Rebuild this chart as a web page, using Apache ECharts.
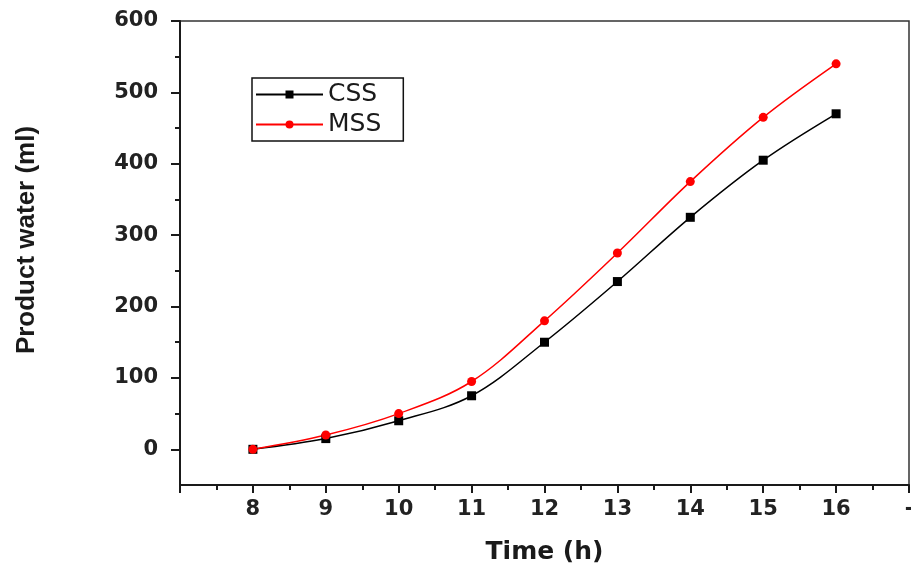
<!DOCTYPE html>
<html>
<head>
<meta charset="utf-8">
<script src="https://cdn.jsdelivr.net/npm/echarts@6/dist/echarts.min.js"></script>
<style>html,body{margin:0;padding:0;background:#fff;}#c{width:911px;height:569px;}</style>
</head>
<body>
<div id="c"></div>
<script>
const hours = [8, 9, 10, 11, 12, 13, 14, 15, 16];
const cssWater = [0, 15, 40, 75, 150, 235, 325, 405, 470];
const mssWater = [0, 20, 50, 95, 180, 275, 375, 465, 540];
const yMajor = [0, 100, 200, 300, 400, 500, 600];
const yMinor = [50, 150, 250, 350, 450, 550];
const xMajorTicks = [7, 8, 9, 10, 11, 12, 13, 14, 15, 16, 17];
const xLabels = [8, 9, 10, 11, 12, 13, 14, 15, 16, 17];
const xMinor = [7.5, 8.5, 9.5, 10.5, 11.5, 12.5, 13.5, 14.5, 15.5, 16.5];

const ink = '#1a1a1a';
const labelFont = { fontFamily: 'DejaVu Sans', fontWeight: 'bold', fontSize: 21, color: '#222' };

const chart = echarts.init(document.getElementById('c'));
chart.setOption({
  animation: false,
  backgroundColor: '#fff',
  grid: { left: 180, right: 2, top: 21, bottom: 84, outerBoundsMode: 'none', containLabel: false, show: true, borderColor: '#333', borderWidth: 1.5, backgroundColor: 'transparent' },
  legend: {
    orient: 'vertical', left: 252, top: 78,
    data: ['CSS', 'MSS'],
    itemWidth: 67, itemHeight: 10, itemGap: 5,
    padding: [4, 22, 4, 3],
    borderColor: '#111', borderWidth: 1.5,
    textStyle: { fontFamily: 'DejaVu Sans', fontSize: 25, color: '#1a1a1a' }
  },
  xAxis: [{
    type: 'value', min: 7, max: 17, interval: 1,
    name: 'Time (h)', nameLocation: 'middle', nameGap: 55,
    nameTextStyle: { fontFamily: 'DejaVu Sans', fontWeight: 'bold', fontSize: 25, color: '#1a1a1a' },
    axisLine: { show: true, onZero: false, lineStyle: { color: ink, width: 2 } },
    axisTick: { show: true, length: 8, lineStyle: { color: ink, width: 2 }, customValues: xMajorTicks },
    axisLabel: Object.assign({ margin: 14, customValues: xLabels, formatter: v => v === 17 ? '-' : String(v) }, labelFont),
    splitLine: { show: false }
  }, {
    type: 'value', min: 7, max: 17, interval: 1, position: 'bottom',
    axisLine: { show: false, onZero: false },
    axisTick: { show: true, length: 5, lineStyle: { color: ink, width: 2 }, customValues: xMinor },
    axisLabel: { show: false },
    splitLine: { show: false }
  }],
  yAxis: [{
    type: 'value', min: -50, max: 600, interval: 50,
    name: 'Product water (ml)', nameLocation: 'middle', nameGap: 140,
    nameTextStyle: { fontFamily: 'Liberation Sans', fontWeight: 'bold', fontSize: 26, color: '#1a1a1a', padding: [0, 0, 0, 26] },
    axisLine: { show: true, onZero: false, lineStyle: { color: ink, width: 2 } },
    axisTick: { show: true, length: 9, lineStyle: { color: ink, width: 2 }, customValues: yMajor },
    axisLabel: Object.assign({ margin: 22, customValues: yMajor }, labelFont),
    splitLine: { show: false }
  }, {
    type: 'value', min: -50, max: 600, interval: 50, position: 'left',
    axisLine: { show: false, onZero: false },
    axisTick: { show: true, length: 5, lineStyle: { color: ink, width: 2 }, customValues: yMinor },
    axisLabel: { show: false },
    splitLine: { show: false }
  }],
  series: [{
    name: 'CSS', type: 'line', smooth: 0.35,
    data: hours.map((h, i) => [h, cssWater[i]]),
    symbol: 'rect', symbolSize: 9,
    itemStyle: { color: '#000' },
    lineStyle: { color: '#000', width: 1.5 }
  }, {
    name: 'MSS', type: 'line', smooth: 0.35,
    data: hours.map((h, i) => [h, mssWater[i]]),
    symbol: 'circle', symbolSize: 9,
    itemStyle: { color: '#ff0000' },
    lineStyle: { color: '#ff0000', width: 1.5 }
  }]
});
</script>
</body>
</html>
